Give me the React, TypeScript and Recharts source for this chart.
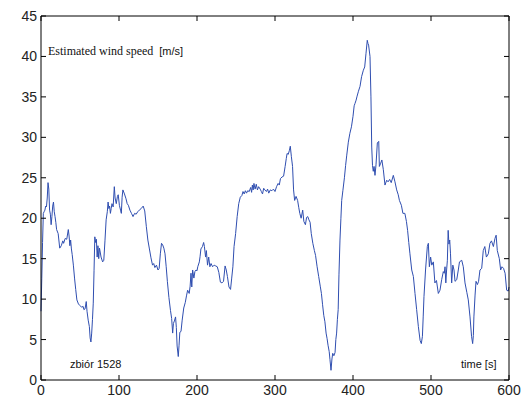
import { LineChart, Line, XAxis, YAxis } from 'recharts';

// time [s] of each sample
const times = [
    0, 1, 2, 3, 4, 5, 6, 7, 8, 9, 10, 11, 12, 13, 14, 15, 16, 17, 18, 19, 20, 22, 24, 26, 28, 29, 31, 33, 35, 36,
    37, 38, 39, 40, 41.5, 43, 44.5, 46, 48, 50, 52, 54, 55, 56.5, 58, 59, 60.5, 62, 63, 64, 65, 66, 67, 68, 69, 70,
    71, 72, 73, 74, 75, 77, 79, 80.5, 82, 83.5, 85, 86, 87, 88, 89, 90, 91, 92.5, 94, 95, 96.5, 98, 99, 100.5, 102,
    103, 104, 105, 107, 109, 110.5, 112, 114, 116, 118, 120, 122, 124, 126, 128.5, 131, 133, 135, 137, 139, 141, 143,
    144.5, 146, 148, 150, 151.5, 153, 154.5, 156, 157.5, 159, 160.5, 162, 164, 166, 167.5, 168.8, 169.8, 171, 172.5,
    173.5, 174.5, 176, 177, 178, 179.5, 181, 183, 185, 186.5, 188, 190, 191.2, 192.3, 193.3, 194.4, 196, 197.3, 198.7,
    200, 201, 203, 204, 205, 207, 208.5, 209.5, 211, 212, 213.5, 215, 216.5, 218, 220, 222, 224, 226, 228, 230, 232,
    234, 236, 237.5, 239, 241, 243, 244.5, 246, 247.5, 249.5, 251.5, 253.5, 255.5, 257.5, 259, 260.5, 262, 263.5, 265,
    267, 268.8, 270, 271, 272, 273, 274.5, 276, 277.5, 279, 281, 282.5, 284, 285.5, 287, 289, 290.5, 292, 294, 296,
    298, 300, 302, 304, 305.5, 307, 309, 311, 313, 314.5, 315.5, 317, 318.5, 319.6, 321, 322.5, 323.8, 325.2, 327,
    329, 330.5, 331.8, 333.5, 335.5, 337, 339, 340.5, 342, 343.5, 345, 346.5, 348.5, 350.5, 352, 354, 356, 358, 359.5,
    361, 362.5, 364, 365.5, 366.8, 368, 369.5, 370.5, 371.8, 373, 374, 375.5, 377, 378, 379, 380, 381, 382, 383.3,
    384.5, 385.5, 387, 389, 390.5, 392, 394, 396, 398, 400, 401.5, 402.6, 404, 405, 407, 409, 411, 413.3, 415, 416.7,
    418.3, 419.2, 420, 421.8, 423, 424, 425, 426, 427, 428.2, 429.5, 431.2, 433, 433.8, 435.5, 437, 438.9, 441, 443.2,
    445, 447, 449, 451.7, 453.8, 456, 458, 459.5, 462, 464, 466.5, 468.5, 470, 471.5, 473, 475.3, 477.4, 479.5, 481.6,
    483.8, 486, 487.6, 489, 490, 491, 493, 495.3, 496.6, 497.9, 499.5, 501, 503, 505, 507, 509.4, 511.5, 513.7, 515.8,
    517, 518, 519, 520, 521, 522, 523, 524, 525, 526.5, 528, 529.5, 530.8, 533, 535, 536.5, 539.4, 541.4, 543.6, 546,
    547.8, 550, 552, 553.4, 554.3, 555, 556.5, 557.7, 559.5, 561, 562.8, 565, 567, 569, 571, 573.5, 575.6, 577.5, 580,
    582, 583.5, 585, 587.6, 589.3, 591, 593, 595, 597, 599, 600,
];

// estimated wind speed [m/s]
const speeds = [
    8.5, 12.5, 17, 20.6, 20.8, 21, 21.5, 21.4, 22.5, 24.4, 23.6, 21, 20.5, 19.2, 20.2, 21.5, 22, 20.8, 20.2, 19.5, 18.6,
    18.1, 16.3, 16.6, 17.2, 16.9, 17.5, 17.4, 18.6, 17.8, 16.6, 17.3, 16.2, 15.5, 14.2, 12.6, 11.2, 9.9, 9.4, 9.2, 9.0,
    9.1, 8.7, 8.8, 9.7, 8.5, 7.4, 6.6, 5.2, 4.7, 5.8, 7.5, 9.5, 13.5, 17.7, 17.0, 17.4, 15.2, 16.6, 15.0, 16.3, 15.2,
    14.6, 14.8, 17.2, 19.8, 20.8, 22.0, 21.2, 21.5, 20.6, 21.2, 21.8, 21.4, 23.9, 22.5, 21.8, 22.7, 22.9, 21.6, 21.0,
    20.6, 22.6, 23.5, 23.0, 22.4, 21.8, 21.6, 21.0, 20.6, 20.2, 20.6, 20.5, 20.8, 21.0, 21.2, 21.5, 20.9, 19.0, 17.3,
    16.2, 15.1, 14.2, 14.4, 13.9, 14.2, 13.6, 13.8, 15.6, 16.9, 16.7, 16.3, 15.6, 14.0, 12.2, 10.2, 8.6, 7.6, 5.8, 7.0,
    7.3, 7.8, 6.5, 4.2, 2.9, 4.3, 5.9, 6.0, 7.4, 8.9, 9.6, 10.4, 11.1, 10.7, 11.6, 13.2, 11.5, 13.6, 12.6, 13.4, 13.6,
    13.5, 14.0, 14.6, 15.3, 16.2, 16.5, 17.0, 16.5, 15.2, 16.0, 14.2, 15.2, 14.0, 14.4, 14.0, 14.2, 14.1, 14.0, 13.3,
    12.1, 12.0, 12.2, 14.1, 13.6, 12.8, 11.5, 11.2, 12.6, 14.0, 16.5, 18.1, 20.2, 21.8, 22.6, 22.8, 23.3, 23.0, 23.4,
    23.1, 23.4, 23.3, 23.8, 23.2, 24.1, 23.5, 24.3, 23.6, 24.2, 23.5, 23.9, 23.6, 23.3, 23.0, 23.7, 23.5, 23.3, 23.6,
    23.1, 23.5, 23.4, 23.6, 23.3, 23.9, 24.3, 24.1, 24.9, 25.1, 25.2, 26.4, 27.4, 28.0, 27.9, 28.4, 28.9, 27.6, 26.4,
    23.5, 22.2, 22.7, 22.2, 21.3, 20.6, 20.0, 21.0, 19.6, 19.2, 20.1, 20.2, 19.8, 19.5, 18.1, 16.9, 16.0, 15.4, 14.0,
    12.8, 11.6, 10.7, 9.3, 8.0, 7.2, 5.8, 5.1, 4.3, 3.5, 2.5, 1.2, 2.6, 3.3, 3.0, 3.4, 5.0, 5.8, 7.5, 8.7, 13.0, 17.3,
    20.0, 22.2, 23.4, 25.0, 26.5, 27.8, 29.4, 30.5, 31.3, 32.6, 33.9, 34.2, 34.6, 35.0, 35.7, 36.3, 37.5, 38.3, 38.7,
    40.4, 42.0, 41.6, 41.4, 40.0, 35.0, 28.8, 26.5, 25.8, 26.4, 25.3, 26.6, 29.3, 29.5, 26.4, 26.8, 27.2, 26.0, 24.1,
    24.7, 24.5, 24.8, 24.4, 25.3, 24.5, 23.5, 22.9, 22.2, 21.6, 20.6, 20.6, 19.6, 18.5, 17.0, 15.6, 13.6, 12.8, 10.7,
    8.7, 6.6, 4.9, 4.5, 5.4, 7.8, 10.3, 13.6, 16.5, 16.9, 14.0, 15.2, 14.2, 14.6, 12.0, 12.3, 10.7, 11.1, 12.4, 13.4,
    13.2, 14.0, 12.0, 13.6, 14.8, 18.5, 16.8, 17.3, 15.6, 12.0, 14.2, 13.6, 12.2, 12.4, 13.6, 14.6, 14.8, 14.0, 12.0,
    10.8, 9.9, 7.8, 5.4, 4.5, 5.5, 7.8, 10.5, 12.2, 11.8, 12.2, 13.6, 13.8, 16.0, 16.5, 15.2, 15.6, 16.9, 17.2, 16.5,
    17.5, 17.9, 16.0, 15.0, 13.6, 14.0, 13.8, 13.2, 11.1, 11.0, 11.5,
];

const xTicks = [0, 100, 200, 300, 400, 500, 600];
const yTicks = [0, 5, 10, 15, 20, 25, 30, 35, 40, 45];

const data = times.map((t, i) => ({ t, v: speeds[i] }));

const labelFont = '"Liberation Sans", Arial, sans-serif';

// MATLAB-style ticks: short mark pointing into the plot, label outside
const BottomTick = ({ x, y, payload }: any) => (
    <g>
        <line x1={x} y1={y} x2={x} y2={y - 5} stroke="#000" />
        <text x={x} y={y + 15} textAnchor="middle" fontSize={14} fontFamily={labelFont} fill="#222">
            {payload.value}
        </text>
    </g>
);

const LeftTick = ({ x, y, payload }: any) => (
    <g>
        <line x1={x} y1={y} x2={x + 5} y2={y} stroke="#000" />
        <text x={x - 4} y={y + 5} textAnchor="end" fontSize={14} fontFamily={labelFont} fill="#222">
            {payload.value}
        </text>
    </g>
);

// top / right frame: tick marks only, no labels
const NoLabel = () => <g />;

const overlayText = {
    position: 'absolute' as const,
    fontSize: 11,
    fontFamily: labelFont,
    color: '#111',
    whiteSpace: 'nowrap' as const,
};

const App = () => {
    return (
        <div style={{ position: 'absolute', left: 0, top: 0, width: 522, height: 397, background: '#fff' }}>
            <LineChart width={522} height={397} data={data} margin={{ top: 16, right: 13, bottom: 0, left: 0 }}>
                <XAxis
                    dataKey="t"
                    type="number"
                    domain={[0, 600]}
                    ticks={xTicks}
                    height={17}
                    tickSize={0}
                    tickMargin={0}
                    stroke="#000"
                    tick={<BottomTick />}
                    interval={0}
                />
                <XAxis
                    xAxisId="top"
                    dataKey="t"
                    orientation="top"
                    type="number"
                    domain={[0, 600]}
                    ticks={xTicks}
                    height={1}
                    mirror
                    tickSize={5}
                    tick={<NoLabel />}
                    stroke="#000"
                    interval={0}
                />
                <YAxis
                    type="number"
                    domain={[0, 45]}
                    ticks={yTicks}
                    width={41}
                    tickSize={0}
                    tickMargin={0}
                    stroke="#000"
                    tick={<LeftTick />}
                    interval={0}
                />
                <YAxis
                    yAxisId="right"
                    orientation="right"
                    type="number"
                    domain={[0, 45]}
                    ticks={yTicks}
                    width={1}
                    mirror
                    tickSize={5}
                    tick={<NoLabel />}
                    stroke="#000"
                    interval={0}
                />
                {/* invisible copy so the top and right frame axes get drawn */}
                <Line
                    xAxisId="top"
                    yAxisId="right"
                    dataKey="v"
                    stroke="none"
                    dot={false}
                    activeDot={false}
                    isAnimationActive={false}
                />
                <Line
                    type="linear"
                    dataKey="v"
                    stroke="#2f4eb0"
                    strokeWidth={1}
                    dot={false}
                    isAnimationActive={false}
                />
            </LineChart>
            <div
                style={{
                    ...overlayText,
                    left: 48,
                    top: 44,
                    fontSize: 12,
                    fontFamily: '"Liberation Serif", "Times New Roman", serif',
                }}
            >
                Estimated wind speed{' '}
                <span style={{ fontFamily: labelFont, fontSize: 11, marginLeft: 3 }}>[m/s]</span>
            </div>
            <div style={{ ...overlayText, left: 70, top: 358 }}>zbiór 1528</div>
            <div style={{ ...overlayText, left: 461, top: 358 }}>time [s]</div>
        </div>
    );
};

export default App;
